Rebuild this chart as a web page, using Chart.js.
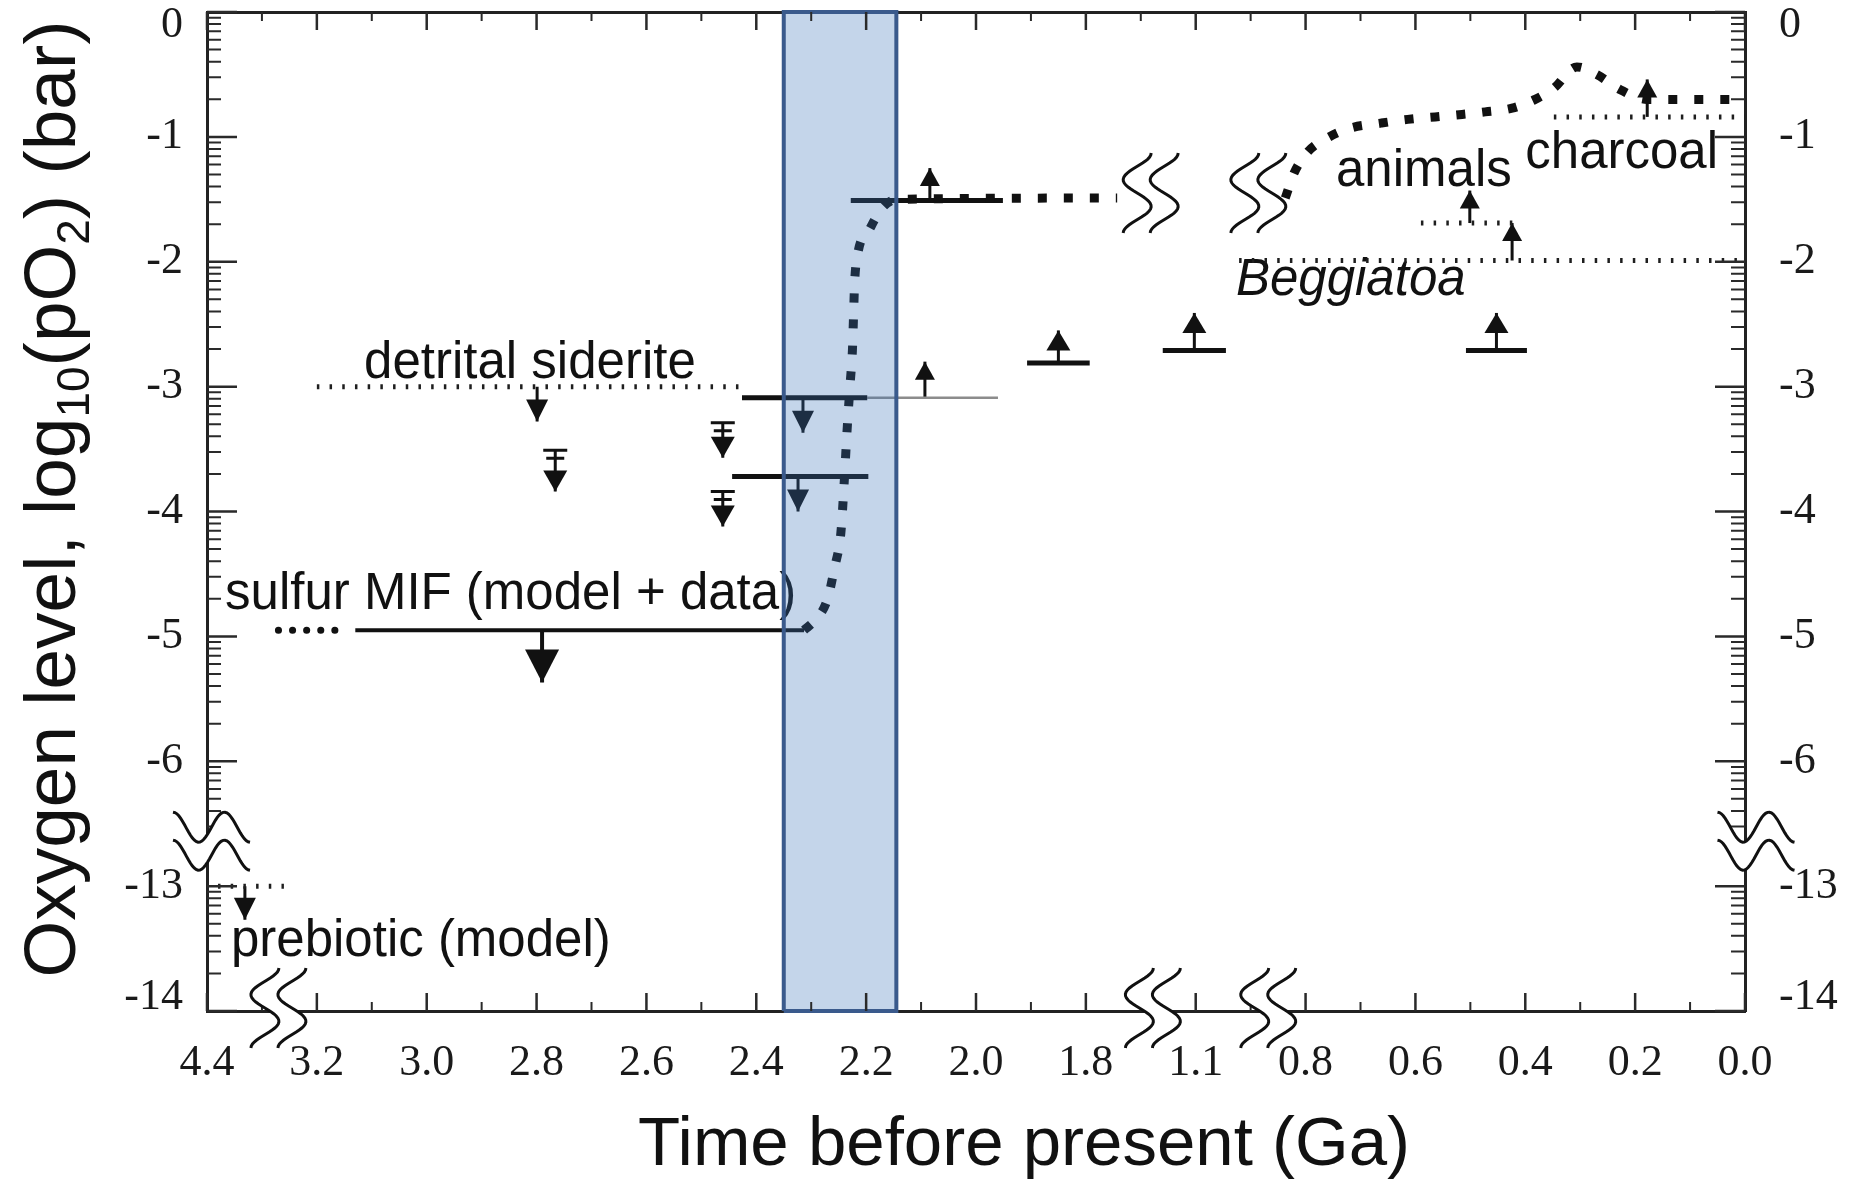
<!DOCTYPE html>
<html>
<head>
<meta charset="utf-8">
<title>Oxygen level through time</title>
<script src="https://cdn.jsdelivr.net/npm/chart.js@4.4.1/dist/chart.umd.min.js"></script>
<style>
  html, body { margin: 0; padding: 0; background: #fff; }
  canvas { display: block; }
</style>
</head>
<body>
<canvas id="oxygenChart" width="1854" height="1181"></canvas>
<script>
// axis labels: the time axis is broken twice, the log axis once
const timeLabels = ['4.4', '3.2', '3.0', '2.8', '2.6', '2.4', '2.2', '2.0', '1.8', '1.1', '0.8', '0.6', '0.4', '0.2', '0.0'];
const levelLabels = [0, -1, -2, -3, -4, -5, -6, -13, -14];

// shaded window (Ga)
const goeWindow = [2.35, 2.145];

// model curve (log10 pO2), Paleoproterozoic rise
const riseAges   = [2.313, 2.293, 2.271, 2.257, 2.246, 2.240, 2.235, 2.229, 2.225, 2.223, 2.221, 2.215, 2.195, 2.169, 2.142, 1.743];
const riseLevels = [-4.95, -4.87, -4.71, -4.44, -4.17, -3.77, -3.37, -2.97, -2.71, -2.44, -2.17, -1.93, -1.75, -1.56, -1.50, -1.49];
// model curve, Neoproterozoic to present
const lateAges   = [0.837, 0.821, 0.796, 0.761, 0.719, 0.663, 0.614, 0.564, 0.515, 0.473, 0.424, 0.382, 0.348, 0.306, 0.270, 0.228, 0.178, 0.129, 0.084, 0.031, 0.0];
const lateLevels = [-1.49, -1.29, -1.12, -1.01, -0.93, -0.89, -0.86, -0.84, -0.82, -0.80, -0.77, -0.70, -0.61, -0.44, -0.50, -0.62, -0.70, -0.70, -0.70, -0.70, -0.70];

// sulfur MIF: data span, model extension, level and arrow [age, from, to]
const mifAges = [3.13, 2.313];
const mifModelAges = [3.27, 3.16];
const mifLevel = -4.95;
const mifArrow = [2.79, -4.95, -5.37];

// dotted limits [ageFrom, ageTo, level]: siderite, Beggiatoa, animals, charcoal, prebiotic
const dottedLimits = [
  [3.2, 2.42, -3.0],
  [1.021, 0.0, -1.99],
  [0.59, 0.41, -1.69],
  [0.348, 0.0, -0.84],
  [4.38, 4.26, -13.0]
];
// solid limits [ageFrom, ageTo, level]
const solidLimits = [
  [2.426, 2.198, -3.09],
  [2.444, 2.196, -3.72],
  [2.228, 1.951, -1.51]
];
const greyLimits = [
  [2.198, 1.96, -3.09]
];
// arrows [age, from, to]
const downArrows = [
  [2.799, -3.0, -3.28],
  [2.315, -3.09, -3.37],
  [2.324, -3.72, -4.0],
  [4.331, -13.0, -13.27]
];
const cappedArrows = [
  [2.766, -3.51, -3.84],
  [2.461, -3.29, -3.57],
  [2.461, -3.84, -4.12]
];
const upArrows = [
  [2.093, -3.09, -2.80],
  [2.084, -1.51, -1.25],
  [0.501, -1.69, -1.43],
  [0.424, -1.99, -1.69],
  [0.178, -0.84, -0.54]
];
// lower limits [ageFrom, ageTo, level, arrowTip]
const lowerBars = [
  [1.907, 1.793, -2.81, -2.55],
  [1.16, 1.045, -2.71, -2.41],
  [0.508, 0.397, -2.71, -2.41]
];

const INK = '#111';

// broken axes: map real values onto evenly spaced plot units
function timePlot(age) {
  if (age > 3.6) return (4.4 - age) / 0.2;
  if (age > 1.5) return 1 + (3.2 - age) / 0.2;
  if (age > 0.95) return 9 + (1.1 - age) / 0.2;
  return 10 + (0.8 - age) / 0.2;
}
const levelPlot = v => (v > -10 ? v : v + 6);
const pt = (age, level) => ({ x: timePlot(age), y: levelPlot(level) });

const datasets = [];
function addLine(points, style) {
  datasets.push(Object.assign({
    data: points,
    borderColor: INK,
    borderWidth: 3,
    pointRadius: 0,
    fill: false,
    tension: 0,
    borderCapStyle: 'butt'
  }, style));
}

// shaded window goes first so it is painted over the rest
addLine([pt(goeWindow[0], -14), pt(goeWindow[0], 0), pt(goeWindow[1], 0), pt(goeWindow[1], -14), pt(goeWindow[0], -14)],
  { borderColor: '#3a5a8c', borderWidth: 4, borderJoinStyle: 'miter', clip: false });
addLine([pt(goeWindow[0], 0), pt(goeWindow[1], 0)],
  { borderWidth: 0, borderColor: 'rgba(0,0,0,0)', backgroundColor: 'rgba(60,115,185,0.30)', fill: 'start' });

// model curves
const curveStyle = { borderWidth: 9, borderDash: [9, 17], cubicInterpolationMode: 'monotone' };
addLine(riseAges.map((a, i) => pt(a, riseLevels[i])), curveStyle);
addLine(lateAges.map((a, i) => pt(a, lateLevels[i])), curveStyle);

// sulfur MIF
addLine(mifAges.map(a => pt(a, mifLevel)), { borderWidth: 4 });
addLine(mifModelAges.map(a => pt(a, mifLevel)), { borderWidth: 7, borderDash: [0.1, 14], borderCapStyle: 'round' });
addLine([pt(mifArrow[0], mifArrow[1]), pt(mifArrow[0], mifArrow[2])], { borderWidth: 4, head: [33, 34] });

dottedLimits.forEach(([a0, a1, v]) => addLine([pt(a0, v), pt(a1, v)], { borderWidth: 5, borderDash: [2.5, 10.2], borderColor: '#1e1e1e' }));
solidLimits.forEach(([a0, a1, v]) => addLine([pt(a0, v), pt(a1, v)], { borderWidth: 5 }));
greyLimits.forEach(([a0, a1, v]) => addLine([pt(a0, v), pt(a1, v)], { borderWidth: 2.5, borderColor: '#8c8c8c' }));

downArrows.forEach(([a, v0, v1]) => addLine([pt(a, v0), pt(a, v1)], { head: [22, 22] }));
cappedArrows.forEach(([a, v0, v1]) => addLine([pt(a, v0), pt(a, v1)], { head: [21, 24], cap: true }));
upArrows.forEach(([a, v0, v1]) => addLine([pt(a, v0), pt(a, v1)], { head: [18, 20] }));
lowerBars.forEach(([a0, a1, v, tip]) => {
  addLine([pt(a0, v), pt(a1, v)], { borderWidth: 5 });
  const mid = (a0 + a1) / 2;
  addLine([pt(mid, v), pt(mid, tip)], { head: [20, 24] });
});

// text placed in plot units
const notes = [
  { text: 'detrital siderite', x: 1.43, y: -2.93 },
  { text: 'sulfur MIF (model + data)', x: 0.164, y: -4.78 },
  { text: 'prebiotic (model)', x: 0.218, y: -7.56 },
  { text: 'animals', x: 10.277, y: -1.39 },
  { text: 'charcoal', x: 12.0, y: -1.25 },
  { text: 'Beggiatoa', x: 9.366, y: -2.27, italic: true }
];

function waveBand(ctx, a, b) {
  ctx.beginPath();
  a.forEach(([x, y], i) => (i ? ctx.lineTo(x, y) : ctx.moveTo(x, y)));
  for (let k = b.length - 1; k >= 0; k--) ctx.lineTo(b[k][0], b[k][1]);
  ctx.closePath();
  ctx.fillStyle = '#fff';
  ctx.fill();
  [a, b].forEach(p => {
    ctx.beginPath();
    p.forEach(([x, y], i) => (i ? ctx.lineTo(x, y) : ctx.moveTo(x, y)));
    ctx.stroke();
  });
}
// two S strokes across a horizontal line
function breakS(ctx, cx, cy) {
  const s = off => Array.from({ length: 41 }, (_, k) => {
    const t = k / 40;
    return [cx + off + 14 * Math.cos(3 * Math.PI * t), cy - 40 + 80 * t];
  });
  waveBand(ctx, s(-13.5), s(13.5));
}
// two waves across a vertical line
function breakWave(ctx, cx, cy) {
  const w = off => Array.from({ length: 41 }, (_, k) => {
    const t = k / 40;
    return [cx - 38.5 + 77 * t, cy + off - 15 * Math.cos(3 * Math.PI * t)];
  });
  waveBand(ctx, w(-14), w(14));
}

const marks = {
  id: 'marks',
  beforeDatasetsDraw(chart) {
    const { ctx, scales: { x, y } } = chart;
    ctx.save();
    ctx.fillStyle = INK;
    ctx.textBaseline = 'alphabetic';
    notes.forEach(n => {
      ctx.font = (n.italic ? 'italic ' : '') + '51px "Liberation Sans", Arial, sans-serif';
      ctx.fillText(n.text, x.getPixelForValue(n.x), y.getPixelForValue(n.y));
    });
    ctx.restore();
  },
  afterDatasetDraw(chart, args) {
    const ds = chart.data.datasets[args.index];
    const pts = args.meta.data;
    const ctx = chart.ctx;
    if (ds.head) {
      const a = pts[pts.length - 2], b = pts[pts.length - 1];
      const ang = Math.atan2(b.y - a.y, b.x - a.x);
      const [len, wid] = ds.head;
      ctx.save();
      ctx.translate(b.x, b.y);
      ctx.rotate(ang);
      ctx.beginPath();
      ctx.moveTo(0, 0);
      ctx.lineTo(-len, -wid / 2);
      ctx.lineTo(-len, wid / 2);
      ctx.closePath();
      ctx.fillStyle = ds.borderColor;
      ctx.fill();
      ctx.restore();
    }
    if (ds.cap) {
      const a = pts[0], b = pts[1];
      const dir = Math.sign(b.y - a.y);
      ctx.save();
      ctx.strokeStyle = ds.borderColor;
      ctx.lineWidth = 3;
      ctx.beginPath();
      ctx.moveTo(a.x - 12, a.y); ctx.lineTo(a.x + 12, a.y);
      ctx.moveTo(a.x - 9, a.y + dir * 8); ctx.lineTo(a.x + 9, a.y + dir * 8);
      ctx.stroke();
      ctx.restore();
    }
  },
  afterDraw(chart) {
    const { ctx, chartArea: { left, right, top, bottom }, scales: { x, y } } = chart;
    ctx.save();
    ctx.strokeStyle = '#2a2a2a';
    // inward ticks on all four sides
    for (let i = 0; i <= 28; i++) {
      const px = x.getPixelForValue(i / 2);
      const len = i % 2 ? 9 : 18;
      ctx.lineWidth = i % 2 ? 2 : 2.5;
      ctx.beginPath();
      ctx.moveTo(px, bottom); ctx.lineTo(px, bottom - len);
      ctx.moveTo(px, top); ctx.lineTo(px, top + len);
      ctx.stroke();
    }
    const yTick = (v, len, w) => {
      const py = y.getPixelForValue(v);
      ctx.lineWidth = w;
      ctx.beginPath();
      ctx.moveTo(left, py); ctx.lineTo(left + len, py);
      ctx.moveTo(right, py); ctx.lineTo(right - len, py);
      ctx.stroke();
    };
    for (let d = 0; d >= -8; d--) yTick(d, 30, 2.5);
    [0, -1, -2, -3, -4, -5, -6, -7].forEach(d => {
      for (let m = 2; m <= 9; m++) {
        const v = d - 1 + Math.log10(m);
        if (d === -6 && v < -6.6) continue;
        yTick(v, 14, 2);
      }
    });

    // axis and curve breaks
    ctx.strokeStyle = INK;
    ctx.lineWidth = 3;
    [0.65, 8.61, 9.66].forEach(p => breakS(ctx, x.getPixelForValue(p), bottom - 3));
    [8.59, 9.57].forEach(p => breakS(ctx, x.getPixelForValue(p), y.getPixelForValue(-1.45)));
    breakWave(ctx, left + 4.5, y.getPixelForValue(-6.64));
    breakWave(ctx, right + 11, y.getPixelForValue(-6.64));

    // axis titles
    ctx.fillStyle = INK;
    ctx.textBaseline = 'alphabetic';
    ctx.textAlign = 'center';
    ctx.font = '69px "Liberation Sans", Arial, sans-serif';
    ctx.fillText('Time before present (Ga)', 1024, 1165);

    const parts = [['Oxygen level, log', 0], ['10', 1], ['(pO', 0], ['2', 1], [') (bar)', 0]];
    const big = '73px "Liberation Sans", Arial, sans-serif';
    const small = '46px "Liberation Sans", Arial, sans-serif';
    ctx.textAlign = 'left';
    let total = 0;
    parts.forEach(([t, s]) => { ctx.font = s ? small : big; total += ctx.measureText(t).width; });
    ctx.translate(75, 499);
    ctx.rotate(-Math.PI / 2);
    let cx = -total / 2;
    parts.forEach(([t, s]) => {
      ctx.font = s ? small : big;
      ctx.fillText(t, cx, s ? 14 : 0);
      cx += ctx.measureText(t).width;
    });
    ctx.restore();
  }
};

const frame = { display: true, color: '#222', width: 3 };
const hiddenGrid = { display: true, drawOnChartArea: false, drawTicks: false, color: 'rgba(0,0,0,0)' };
const tickFont = { family: '"Liberation Serif", "Times New Roman", serif', size: 44 };
// the end labels sit a little inside the frame
const levelTickList = s => {
  const last = levelLabels.length - 1;
  s.ticks = levelLabels.map((v, i) => ({ value: levelPlot(v) + (i === 0 ? -0.11 : i === last ? 0.11 : 0) }));
};
const levelText = (v, i) => String(levelLabels[i]);

new Chart(document.getElementById('oxygenChart'), {
  type: 'line',
  data: { datasets },
  options: {
    responsive: false,
    animation: false,
    devicePixelRatio: 1,
    events: [],
    layout: { padding: 0 },
    plugins: { legend: { display: false }, tooltip: { enabled: false } },
    scales: {
      x: {
        type: 'linear', position: 'bottom', min: 0, max: 14,
        border: frame, grid: hiddenGrid,
        afterBuildTicks: s => { s.ticks = timeLabels.map((_, i) => ({ value: i })); },
        afterFit: s => { s.height = 170; s.paddingLeft = 0; s.paddingRight = 0; },
        ticks: { callback: (v, i) => timeLabels[i], font: tickFont, color: '#1a1a1a', padding: 26, maxRotation: 0, autoSkip: false }
      },
      xTop: {
        type: 'linear', position: 'top', min: 0, max: 14,
        border: frame, grid: hiddenGrid,
        afterFit: s => { s.height = 12; s.paddingLeft = 0; s.paddingRight = 0; },
        ticks: { display: false }
      },
      y: {
        type: 'linear', position: 'left', min: -8, max: 0,
        border: frame, grid: hiddenGrid,
        afterBuildTicks: levelTickList,
        afterFit: s => { s.width = 207; s.paddingTop = 0; s.paddingBottom = 0; },
        ticks: { callback: levelText, font: tickFont, color: '#1a1a1a', padding: 24, autoSkip: false }
      },
      yRight: {
        type: 'linear', position: 'right', min: -8, max: 0,
        border: frame, grid: hiddenGrid,
        afterBuildTicks: levelTickList,
        afterFit: s => { s.width = 109; s.paddingTop = 0; s.paddingBottom = 0; },
        ticks: { callback: levelText, font: tickFont, color: '#1a1a1a', padding: 34, autoSkip: false }
      }
    }
  },
  plugins: [marks]
});
</script>
</body>
</html>
